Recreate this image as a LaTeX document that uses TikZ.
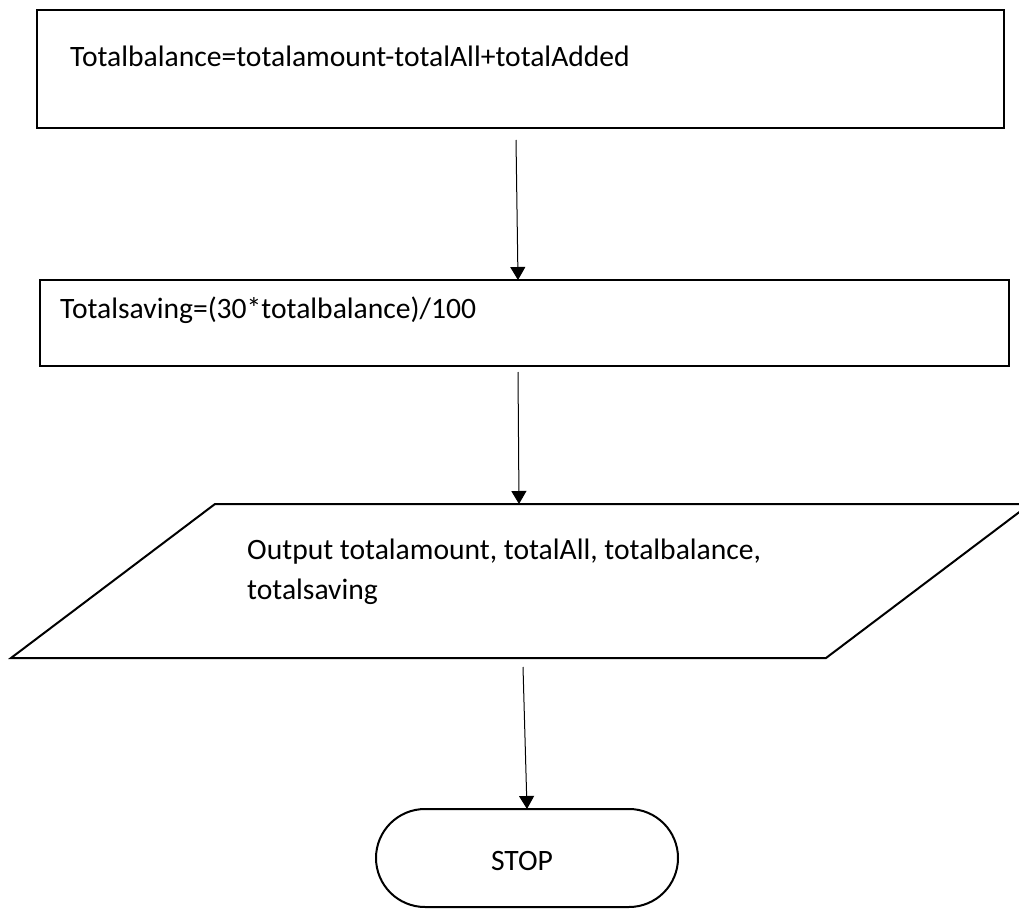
\documentclass[tikz,border=0pt]{standalone}
\usepackage{fontspec}
\setmainfont{Carlito}
\usetikzlibrary{arrows.meta}
\begin{document}
\begin{tikzpicture}[x=1pt,y=-1pt,
  procbox/.style={draw=black, rectangle, inner sep=0pt},
  txt/.style={inner sep=0pt, font=\fontsize{29.6}{40}\selectfont, text=black},
  conn/.style={draw=black, line width=1pt, -{Triangle[width=15pt,length=13pt]}}]
\useasboundingbox (0,0) rectangle (1019,909);
\fill[white] (0,0) rectangle (1019,909);
% box 1
\node[procbox, line width=2.8pt, minimum width=967pt, minimum height=118pt] (b1) at (520.5,69) {};
\node[txt, anchor=base west] (t1) at (70,67) {Totalbalance=totalamount-totalAll+totalAdded};
% box 2
\node[procbox, line width=1.6pt, minimum width=969pt, minimum height=86pt] (b2) at (524.5,323) {};
\node[txt, anchor=base west] (t2) at (60,318) {Totalsaving=(30*totalbalance)/100};
% parallelogram
\coordinate (p1) at (215,504);
\coordinate (p2) at (1030,504);
\coordinate (p3) at (826,658);
\coordinate (p4) at (11,658);
\draw[line width=2pt, line join=miter] (p1) -- (p2) -- (p3) -- (p4) -- cycle;
\node[txt, anchor=base west] (t3a) at (247,559) {Output totalamount, totalAll, totalbalance,};
\node[txt, anchor=base west] (t3b) at (247,599) {totalsaving};
% stop terminal
\draw[line width=2pt, rounded corners=49pt] (376,809) rectangle (678,907);
\node[txt, anchor=base] (stop) at (522,870) {STOP};
% connectors
\coordinate (a1s) at (516,140);
\coordinate (a1e) at (518,280);
\coordinate (a2s) at (518,372);
\coordinate (a2e) at (519,504);
\coordinate (a3s) at (523,667);
\coordinate (a3e) at (527,809);
\draw[conn] (a1s) -- (a1e);
\draw[conn] (a2s) -- (a2e);
\draw[conn] (a3s) -- (a3e);
\end{tikzpicture}
\end{document}
